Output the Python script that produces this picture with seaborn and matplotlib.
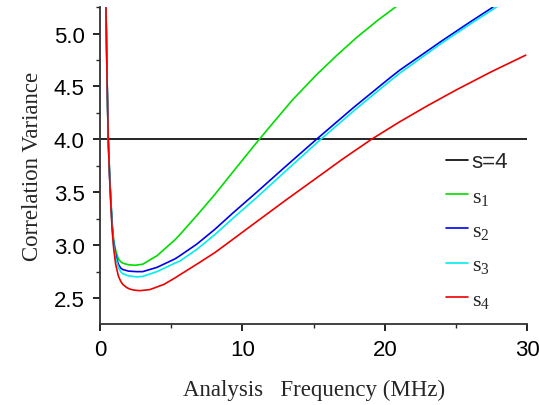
import matplotlib
matplotlib.use('Agg')
import matplotlib.pyplot as plt
import pandas as pd
import seaborn as sns
from matplotlib.ticker import MultipleLocator

# Values
x_s1 = [0.42, 0.5, 0.58, 0.67, 0.75, 0.85, 0.96, 1.1, 1.29, 1.45, 1.6, 2.0, 2.46, 3.0, 4.0,
        5.26, 5.61, 6.8, 8.07, 9.5, 10.88, 11.93, 13.5, 15.2, 16.6, 18.0, 19.5, 20.9]
y_s1 = [5.25, 4.55, 4.0, 3.7, 3.46, 3.22, 3.05, 2.95, 2.87, 2.845, 2.83, 2.815, 2.81, 2.82, 2.9,
        3.05, 3.1, 3.28, 3.48, 3.72, 3.95, 4.12, 4.37, 4.61, 4.79, 4.96, 5.125, 5.265]

x_s2 = [0.42, 0.5, 0.58, 0.67, 0.75, 0.85, 0.96, 1.1, 1.29, 1.45, 1.6, 2.0, 2.57, 3.0, 4.0,
        5.26, 5.61, 6.8, 8.07, 9.3, 11.0, 13.0, 15.2, 17.8, 20.35, 21.05, 24.0, 26.0, 27.6]
y_s2 = [5.25, 4.55, 4.0, 3.68, 3.45, 3.2, 3.02, 2.91, 2.82, 2.785, 2.77, 2.755, 2.75, 2.75, 2.79,
        2.87, 2.9, 3.01, 3.15, 3.3, 3.5, 3.74, 4.0, 4.3, 4.58, 4.654, 4.93, 5.11, 5.25]

x_s3 = [0.42, 0.5, 0.58, 0.67, 0.75, 0.85, 0.96, 1.1, 1.29, 1.45, 1.6, 2.0, 2.6, 3.0, 4.0,
        5.26, 5.61, 6.8, 8.07, 9.3, 11.0, 13.2, 15.5, 18.0, 20.35, 21.05, 24.0, 26.0, 27.9]
y_s3 = [5.25, 4.55, 4.0, 3.67, 3.44, 3.18, 3.0, 2.88, 2.79, 2.75, 2.73, 2.71, 2.7, 2.705, 2.75,
        2.83, 2.85, 2.96, 3.1, 3.25, 3.45, 3.72, 4.0, 4.29, 4.55, 4.625, 4.91, 5.09, 5.255]

x_s4 = [0.42, 0.5, 0.58, 0.67, 0.75, 0.85, 0.96, 1.1, 1.29, 1.45, 1.6, 1.87, 2.1, 2.4, 2.8, 3.5,
        4.5, 5.26, 5.61, 6.8, 8.07, 9.3, 11.0, 13.0, 15.0, 17.0, 19.06, 20.35, 21.05,
        23.0, 25.0, 27.5, 29.9]
y_s4 = [5.25, 4.55, 4.0, 3.65, 3.42, 3.15, 2.97, 2.82, 2.71, 2.66, 2.63, 2.6, 2.585, 2.575, 2.57, 2.58,
        2.63, 2.69, 2.72, 2.82, 2.93, 3.052, 3.222, 3.421, 3.615, 3.81, 4.0, 4.108, 4.166,
        4.318, 4.466, 4.64, 4.796]

threshold = 4.0
labels = [r'$\mathrm{s}_1$', r'$\mathrm{s}_2$', r'$\mathrm{s}_3$', r'$\mathrm{s}_4$']
colors = ['#00dd00', '#0000ee', '#00eeee', '#ee0000']

frames = []
for lab, xs, ys in zip(labels, [x_s1, x_s2, x_s3, x_s4], [y_s1, y_s2, y_s3, y_s4]):
    frames.append(pd.DataFrame({'freq': xs, 'var': ys, 'series': lab}))
df = pd.concat(frames, ignore_index=True)

sns.set_style('ticks')
plt.rcParams['font.family'] = ['Liberation Sans', 'DejaVu Sans']
plt.rcParams['mathtext.fontset'] = 'custom'
plt.rcParams['mathtext.rm'] = 'Liberation Serif'
plt.rcParams['mathtext.it'] = 'Liberation Serif:italic'

fig = plt.figure(figsize=(5.39, 4.06), dpi=100)
ax = fig.add_axes([0.1855, 0.1995, 0.7925, 0.7805])

ax.axhline(threshold, color='black', linewidth=1.2, label='s=4')
sns.lineplot(data=df, x='freq', y='var', hue='series', palette=colors, sort=False,
             estimator=None, linewidth=1.2, ax=ax)

ax.set_xlim(0, 30)
ax.set_ylim(2.255, 5.25)
ax.xaxis.set_major_locator(MultipleLocator(10))
ax.xaxis.set_minor_locator(MultipleLocator(5))
ax.yaxis.set_major_locator(MultipleLocator(0.5))
ax.yaxis.set_minor_locator(MultipleLocator(0.25))
ax.tick_params(which='major', length=5, width=1.2, labelsize=16, colors='black')
ax.tick_params(axis='x', which='major', pad=6)
ax.tick_params(axis='y', which='major', pad=6)
ax.tick_params(which='minor', length=3, width=1.0)
sns.despine(ax=ax)
for sp in ['left', 'bottom']:
    ax.spines[sp].set_linewidth(1.3)
    ax.spines[sp].set_color('#333333')

ax.set_xlabel('Analysis   Frequency (MHz)', fontfamily='Liberation Serif', fontsize=16.5, labelpad=13)
ax.set_ylabel('Correlation Variance', fontfamily='Liberation Serif', fontsize=16.5, labelpad=8)

leg = ax.legend(loc='upper left', bbox_to_anchor=(0.81, 0.545), frameon=False, fontsize=16,
                handlelength=1.0, handletextpad=0.15, labelspacing=0.6, borderpad=0,
                borderaxespad=0)
leg.get_texts()[0].set_fontfamily('Liberation Sans')

fig.savefig('out.png', dpi=100)
